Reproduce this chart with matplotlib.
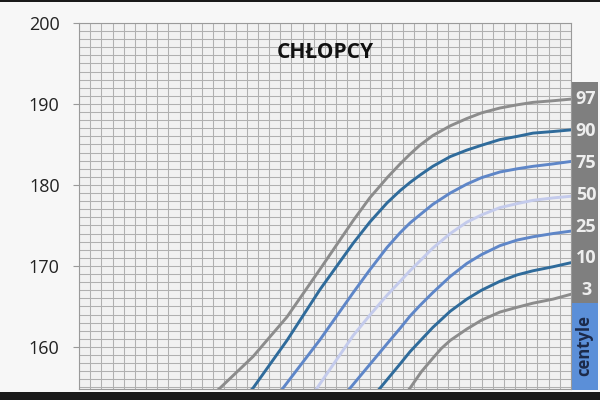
import matplotlib
matplotlib.use("Agg")
import matplotlib.pyplot as plt
import numpy as np
from matplotlib.patches import Rectangle

# age in years (grid column = 3 months), height in cm
age_97 = [10.8, 11.15, 11.89, 12.65, 13.39, 14.13, 14.5, 14.89, 15.18, 15.4, 15.62,
          15.91, 16.3, 16.67, 17.0, 17.41, 17.8, 18.15, 18.6, 19.0]
h_97 = [153.2, 154.9, 158.8, 163.7, 169.6, 175.6, 178.4, 180.9, 182.6, 183.8, 184.9,
        186.1, 187.3, 188.2, 188.9, 189.5, 189.9, 190.2, 190.4, 190.6]

age_90 = [11.5, 11.89, 12.65, 13.39, 14.13, 14.5, 14.89, 15.18, 15.4, 15.62, 15.91,
          16.3, 16.67, 17.0, 17.41, 17.8, 18.15, 18.6, 19.0]
h_90 = [152.8, 154.9, 160.8, 167.1, 172.8, 175.4, 177.8, 179.3, 180.3, 181.2, 182.3,
        183.5, 184.3, 184.9, 185.6, 186.0, 186.4, 186.6, 186.8]

age_75 = [12.3, 12.56, 13.39, 14.13, 14.5, 14.89, 15.18, 15.4, 15.62, 15.91, 16.3,
          16.67, 17.0, 17.41, 17.8, 18.15, 18.6, 19.0]
h_75 = [153.0, 154.9, 160.9, 166.7, 169.5, 172.3, 174.1, 175.3, 176.3, 177.6, 179.0,
        180.1, 180.9, 181.6, 182.0, 182.3, 182.6, 182.9]

age_50 = [13.0, 13.32, 14.13, 14.5, 14.89, 15.18, 15.4, 15.62, 15.91, 16.3, 16.67,
          17.0, 17.41, 17.8, 18.15, 18.6, 19.0]
h_50 = [152.4, 154.9, 161.4, 163.9, 166.4, 168.1, 169.4, 170.6, 172.2, 174.0, 175.4,
        176.3, 177.2, 177.7, 178.1, 178.4, 178.6]

age_25 = [13.7, 14.06, 14.89, 15.18, 15.4, 15.62, 15.91, 16.3, 16.67, 17.0, 17.41,
          17.8, 18.15, 18.6, 19.0]
h_25 = [152.6, 154.9, 160.4, 162.3, 163.8, 165.1, 166.7, 168.7, 170.3, 171.4, 172.5,
        173.2, 173.6, 174.0, 174.3]

age_10 = [14.4, 14.73, 15.18, 15.4, 15.62, 15.91, 16.3, 16.67, 17.0, 17.41, 17.8,
          18.15, 18.6, 19.0]
h_10 = [152.8, 154.9, 157.9, 159.4, 160.7, 162.4, 164.4, 165.9, 167.0, 168.1, 168.9,
        169.4, 169.9, 170.4]

age_3 = [15.1, 15.40, 15.65, 15.91, 16.1, 16.3, 16.67, 17.0, 17.41, 17.8, 18.15,
         18.6, 19.0]
h_3 = [152.8, 154.9, 156.9, 158.6, 159.8, 160.8, 162.2, 163.3, 164.3, 164.9, 165.4,
       165.9, 166.5]

centiles = ["97", "90", "75", "50", "25", "10", "3"]
y_ticks = [160, 170, 180, 190, 200]

series = [(age_97, h_97), (age_90, h_90), (age_75, h_75), (age_50, h_50),
          (age_25, h_25), (age_10, h_10), (age_3, h_3)]
colors = ["#8c8c8c", "#2f6b9b", "#5e86c8", "#c4cbec", "#5e86c8", "#2f6b9b", "#8c8c8c"]

fig = plt.figure(figsize=(6, 4), dpi=100)
fig.patch.set_facecolor("#f7f7f7")
ax = fig.add_axes([79 / 600, 1 - 389 / 400, 492 / 600, 366 / 400])
ax.set_facecolor("#f1f1f1")
ax.set_zorder(2)

ax.set_xlim(8, 19)
ax.set_ylim(154.8, 200)
ax.set_xticks(np.arange(8, 19.01, 0.25))
ax.set_yticks(np.arange(155, 200.1, 1), minor=True)
ax.set_yticks(y_ticks)
ax.grid(True, which="both", color="#b0b0b0", linewidth=0.75)
ax.set_axisbelow(True)
ax.tick_params(axis="x", length=0, labelbottom=False)
ax.tick_params(axis="y", which="minor", length=0)
ax.tick_params(axis="y", which="major", length=4, color="#9a9a9a",
               labelsize=13, labelcolor="#222222", pad=10)
for lbl in ax.get_yticklabels():
    lbl.set_fontfamily("Open Sans")
for s in ax.spines.values():
    s.set_color("#9a9a9a")
    s.set_linewidth(0.8)

for (a, h), c in zip(series, colors):
    ax.plot(a, h, color=c, linewidth=2.1, solid_capstyle="round",
            solid_joinstyle="round")

ax.text(0.50, 0.92, "CHŁOPCY", transform=ax.transAxes, ha="center", va="center",
        fontsize=15, fontweight="bold", family="Open Sans", color="#111111")

# label column on the right
fig.patches.append(Rectangle((570 / 600, 1 - 303 / 400), 28 / 600, 221 / 400,
                             transform=fig.transFigure, facecolor="#7f7f7f",
                             edgecolor="none"))
fig.patches.append(Rectangle((570 / 600, 1 - 390 / 400), 28 / 600, 87 / 400,
                             transform=fig.transFigure, facecolor="#5b8fd8",
                             edgecolor="none"))
label_y = np.linspace(190.6, 167.0, len(centiles))
for name, yv in zip(centiles, label_y):
    ax.text(1.0 + 15 / 492, yv, name, transform=ax.get_yaxis_transform(),
            ha="center", va="center", fontsize=13, fontweight="bold",
            family="Open Sans", color="#eeeeee", clip_on=False)
fig.text(584 / 600, 1 - 346 / 400, "centyle", rotation=90, ha="center", va="center",
         fontsize=12, fontweight="bold", family="Open Sans", color="#1c2a4a",
         zorder=5)

# dark video bars at top and bottom
fig.patches.append(Rectangle((0, 1 - 2 / 400), 1, 2 / 400, transform=fig.transFigure,
                             facecolor="#1a1a1a", edgecolor="none"))
fig.patches.append(Rectangle((0, 0), 1, 8 / 400, transform=fig.transFigure,
                             facecolor="#1a1a1a", edgecolor="none"))

fig.savefig("out.png", dpi=100, facecolor=fig.get_facecolor())
